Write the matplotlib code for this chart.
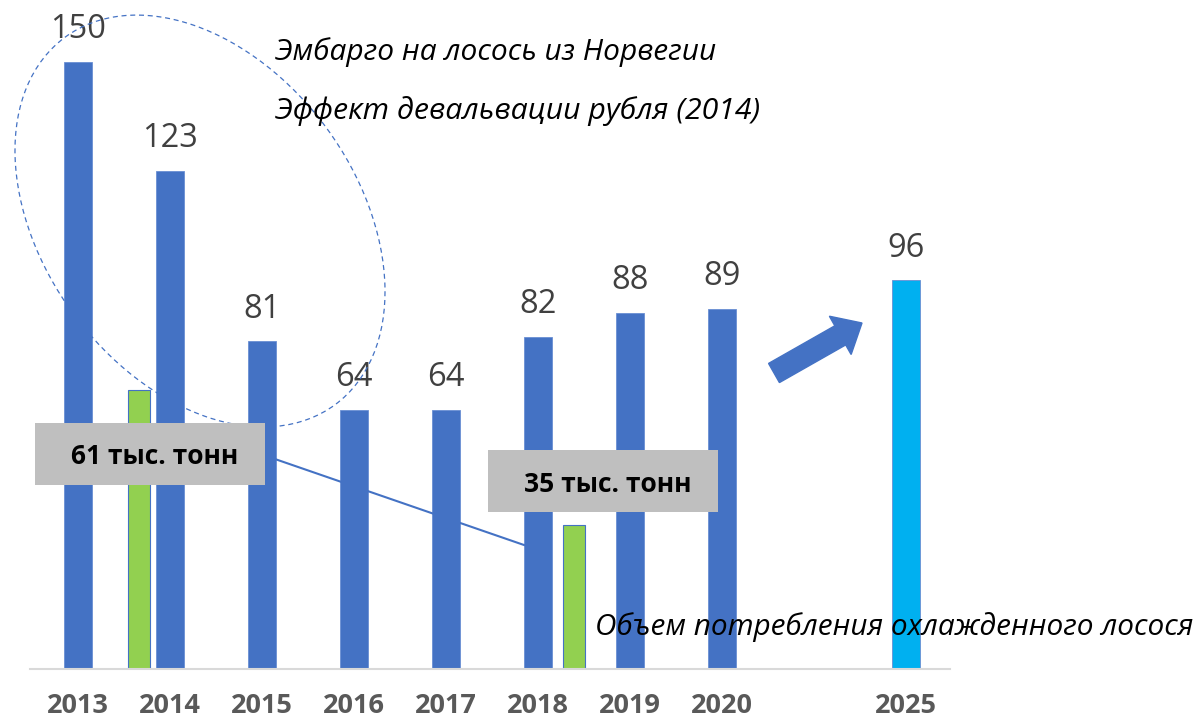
import numpy as np
import matplotlib
matplotlib.use('Agg')
import matplotlib.pyplot as plt
from matplotlib.patches import Ellipse, Rectangle, FancyArrow

plt.rcParams['font.family'] = ['Open Sans', 'DejaVu Sans']

years = ['2013', '2014', '2015', '2016', '2017', '2018', '2019', '2020', '2025']
xpos = [0, 1, 2, 3, 4, 5, 6, 7, 9]
total = [150, 123, 81, 64, 64, 82, 88, 89, 96]
bar_colors = ['#4472C4'] * 8 + ['#00B0F0']

chilled_pos = [1 - 0.34, 5 + 0.39]
chilled = [69, 35.5]
chilled_labels = ['61 тыс. тонн', '35 тыс. тонн']

note_top = ['Эмбарго на лосось из Норвегии', 'Эффект девальвации рубля (2014)']
note_bottom = 'Объем потребления охлажденного лосося'

fig = plt.figure(figsize=(12.01, 7.24), dpi=100)
ax = fig.add_axes([30 / 1201, 55 / 724, 920 / 1201, 669 / 724])

ax.bar(xpos, total, width=0.30, color=bar_colors, edgecolor='#6a8fd3', linewidth=0.6, zorder=2)
ax.bar(chilled_pos, chilled, width=0.24, color='#92D050', edgecolor='#4472C4', linewidth=0.8, zorder=2)

for x, v in zip(xpos, total):
    ax.annotate(str(v), (x, v), xytext=(0, 23), textcoords='offset points',
                ha='center', va='center', fontsize=23.5, color='#404040')

ax.set_xlim(-0.522, 9.478)
ax.set_ylim(0, 165.2)
ax.set_xticks(xpos)
ax.set_xticklabels(years, fontsize=19.5, fontweight='bold', color='#595959')
ax.tick_params(axis='x', length=0, pad=17)
ax.set_yticks([])
for s in ['top', 'right', 'left']:
    ax.spines[s].set_visible(False)
ax.spines['bottom'].set_color('#D9D9D9')
ax.spines['bottom'].set_linewidth(1.5)

# everything below is placed in figure inches (1 inch = 100 px), y from bottom
tr = fig.dpi_scale_trans

ell = Ellipse((2.00, 5.03), 4.56, 3.14, angle=-53.7, fill=False,
              edgecolor='#4472C4', linestyle=(0, (4, 3)), linewidth=0.9, transform=tr)
fig.add_artist(ell)

fig.add_artist(plt.Line2D([2.72, 5.24], [7.24 - 4.58, 7.24 - 5.45], color='#4472C4',
                          linewidth=1.5, transform=tr))

boxes = [(0.35, 7.24 - 4.85, 2.30, 0.62), (4.88, 7.24 - 5.12, 2.30, 0.62)]
for (bx, by, bw, bh), lab in zip(boxes, chilled_labels):
    fig.add_artist(Rectangle((bx, by), bw, bh, facecolor='#BFBFBF', edgecolor='none',
                             transform=tr, zorder=5))
    fig.text(bx + bw / 2 + 0.05, by + bh / 2 - 0.03, lab, transform=tr, ha='center',
             va='center', fontsize=19, fontweight='bold', color='black', zorder=6)

arr = FancyArrow(7.74, 7.24 - 3.73, 0.88, 0.50, width=0.22, head_width=0.44,
                 head_length=0.25, length_includes_head=True, color='#4472C4',
                 transform=tr)
fig.add_artist(arr)

fig.text(2.75, 7.24 - 0.52, note_top[0], transform=tr, ha='left', va='center',
         fontsize=21.5, style='italic', color='black')
fig.text(2.75, 7.24 - 1.11, note_top[1], transform=tr, ha='left', va='center',
         fontsize=21.8, style='italic', color='black')
fig.text(5.95, 7.24 - 6.27, note_bottom, transform=tr, ha='left', va='center',
         fontsize=21.4, style='italic', color='black', zorder=6)

fig.savefig('out.png', dpi=100)
